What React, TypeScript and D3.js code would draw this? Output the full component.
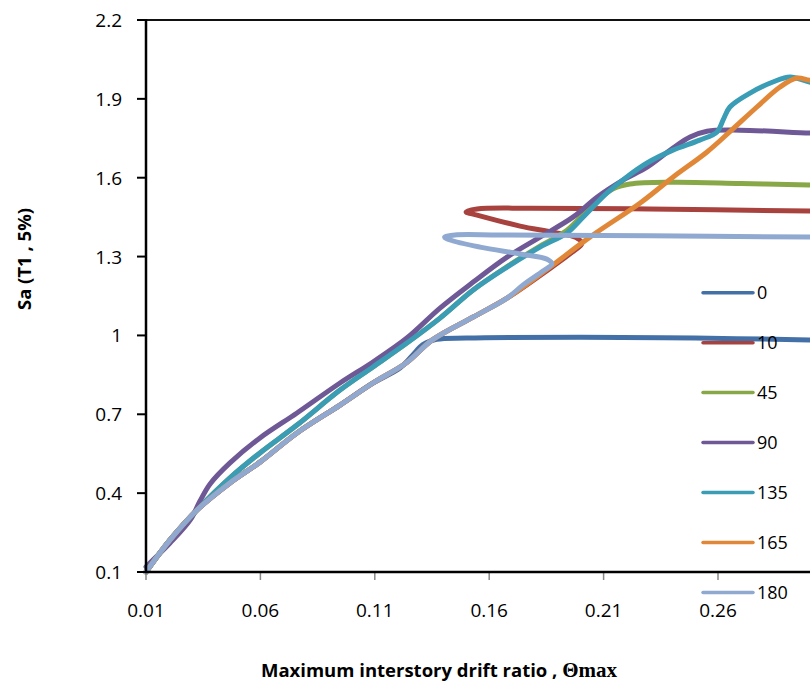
import React from "react";
import * as d3 from "d3";

const W = 810;
const H = 682;

const seriesNames = ["0", "10", "45", "90", "135", "165", "180"];
const seriesColors = ["#4470A8", "#A8423E", "#88A848", "#6E5895", "#3A9CB5", "#E08838", "#90A9D0"];

const xTicks = [0.01, 0.06, 0.11, 0.16, 0.21, 0.26];
const xTickLabels = ["0.01", "0.06", "0.11", "0.16", "0.21", "0.26"];
const yTicks = [0.1, 0.4, 0.7, 1.0, 1.3, 1.6, 1.9, 2.2];
const yTickLabels = ["0.1", "0.4", "0.7", "1", "1.3", "1.6", "1.9", "2.2"];

// Series 0
const drift0 = [0.01, 0.0205, 0.0323, 0.0467, 0.0598, 0.076, 0.0948, 0.1092, 0.121, 0.1265, 0.131, 0.137, 0.15, 0.2, 0.25, 0.3, 0.31];
const sa0 = [0.1, 0.222, 0.336, 0.439, 0.518, 0.629, 0.735, 0.819, 0.876, 0.925, 0.965, 0.985, 0.99, 0.993, 0.99, 0.983, 0.981];

// Series 10
const drift10 = [0.01, 0.0205, 0.0323, 0.0467, 0.0598, 0.076, 0.0948, 0.1092, 0.124, 0.135, 0.153, 0.1678, 0.1866, 0.196, 0.2005, 0.198, 0.188, 0.1735, 0.1547, 0.1499, 0.1547, 0.178, 0.23, 0.3, 0.31];
const sa10 = [0.1, 0.222, 0.336, 0.439, 0.518, 0.629, 0.735, 0.819, 0.897, 0.982, 1.07, 1.142, 1.255, 1.315, 1.35, 1.372, 1.392, 1.416, 1.458, 1.47, 1.481, 1.484, 1.481, 1.473, 1.472];

// Series 45
const drift45 = [0.01, 0.0205, 0.0323, 0.0467, 0.0598, 0.076, 0.0948, 0.1092, 0.124, 0.1385, 0.153, 0.1678, 0.1822, 0.194, 0.2054, 0.214, 0.2215, 0.2403, 0.27, 0.3, 0.31];
const sa45 = [0.1, 0.222, 0.336, 0.458, 0.553, 0.659, 0.792, 0.88, 0.971, 1.066, 1.173, 1.262, 1.34, 1.4, 1.5, 1.557, 1.576, 1.583, 1.578, 1.572, 1.571];

// Series 90
const drift90 = [0.01, 0.0205, 0.0295, 0.0336, 0.038, 0.0467, 0.0598, 0.076, 0.0948, 0.1092, 0.124, 0.1385, 0.153, 0.1678, 0.1822, 0.1966, 0.2071, 0.2185, 0.229, 0.2403, 0.2478, 0.2552, 0.2696, 0.3, 0.31];
const sa90 = [0.12, 0.21, 0.3, 0.37, 0.435, 0.515, 0.61, 0.705, 0.819, 0.899, 0.99, 1.104, 1.203, 1.298, 1.374, 1.45, 1.526, 1.591, 1.64, 1.713, 1.755, 1.777, 1.781, 1.77, 1.768];

// Series 135
const drift135 = [0.01, 0.0205, 0.0323, 0.0467, 0.0598, 0.076, 0.0948, 0.1092, 0.124, 0.1385, 0.153, 0.1678, 0.1822, 0.194, 0.201, 0.2115, 0.22, 0.229, 0.2403, 0.252, 0.2596, 0.2622, 0.2652, 0.274, 0.284, 0.2915, 0.3, 0.31];
const sa135 = [0.1, 0.222, 0.336, 0.458, 0.553, 0.659, 0.792, 0.88, 0.971, 1.066, 1.173, 1.26, 1.336, 1.39, 1.45, 1.542, 1.602, 1.656, 1.705, 1.743, 1.774, 1.819, 1.869, 1.922, 1.964, 1.983, 1.964, 1.95];

// Series 165
const drift165 = [0.01, 0.0205, 0.0323, 0.0467, 0.0598, 0.076, 0.0948, 0.1092, 0.124, 0.135, 0.153, 0.1678, 0.1866, 0.204, 0.226, 0.2403, 0.2552, 0.2652, 0.277, 0.2871, 0.2945, 0.3, 0.31];
const sa165 = [0.1, 0.222, 0.336, 0.439, 0.518, 0.629, 0.735, 0.819, 0.897, 0.982, 1.07, 1.142, 1.26, 1.374, 1.504, 1.602, 1.698, 1.775, 1.869, 1.945, 1.979, 1.971, 1.96];

// Series 180
const drift180 = [0.01, 0.0205, 0.0323, 0.0467, 0.0598, 0.076, 0.0948, 0.1092, 0.124, 0.135, 0.153, 0.1678, 0.1748, 0.1835, 0.1874, 0.1853, 0.1735, 0.156, 0.1429, 0.1405, 0.145, 0.1647, 0.23, 0.3, 0.31];
const sa180 = [0.1, 0.222, 0.336, 0.439, 0.518, 0.629, 0.735, 0.819, 0.897, 0.982, 1.07, 1.142, 1.192, 1.245, 1.272, 1.29, 1.31, 1.336, 1.363, 1.374, 1.382, 1.382, 1.379, 1.374, 1.373];

const driftSeries = [drift0, drift10, drift45, drift90, drift135, drift165, drift180];
const saSeries = [sa0, sa10, sa45, sa90, sa135, sa165, sa180];

const PLOT_LEFT = 146;
const PLOT_TOP = 20;
const PLOT_BOTTOM = 572;
const PLOT_RIGHT = 832.4;

const FONT = "'Open Sans', 'Liberation Sans', sans-serif";

export default function App() {
  const x = d3.scaleLinear().domain([0.01, 0.31]).range([PLOT_LEFT, PLOT_RIGHT]);
  const y = d3.scaleLinear().domain([0.1, 2.2]).range([PLOT_BOTTOM, PLOT_TOP]);

  const line = d3
    .line<[number, number]>()
    .x((d) => x(d[0]))
    .y((d) => y(d[1]))
    .curve(d3.curveCatmullRom.alpha(0.5));

  const paths = driftSeries.map((xs, i) => {
    const pts: [number, number][] = xs.map((v, j) => [v, saSeries[i][j]]);
    return line(pts) || "";
  });

  return (
    <svg
      width={W}
      height={H}
      viewBox={`0 0 ${W} ${H}`}
      style={{ position: "absolute", left: 0, top: 0, background: "#fff" }}
    >
      <rect x={0} y={0} width={W} height={H} fill="#fff" />

      {/* series */}
      <g fill="none" strokeLinecap="round" strokeLinejoin="round">
        {paths.map((p, i) => (
          <path key={seriesNames[i]} d={p} stroke={seriesColors[i]} strokeWidth={5} />
        ))}
      </g>

      {/* x ticks */}
      {xTicks.map((t) => (
        <line key={"xt" + t} x1={x(t)} x2={x(t)} y1={PLOT_BOTTOM} y2={PLOT_BOTTOM + 8} stroke="#888" strokeWidth={1.5} />
      ))}
      {/* y ticks */}
      {yTicks.map((t) => (
        <line key={"yt" + t} x1={PLOT_LEFT - 9} x2={PLOT_LEFT} y1={y(t)} y2={y(t)} stroke="#000" strokeWidth={2} />
      ))}

      {/* axes / frame */}
      <line x1={PLOT_LEFT} x2={PLOT_RIGHT} y1={PLOT_TOP} y2={PLOT_TOP} stroke="#111" strokeWidth={2} />
      <line x1={PLOT_LEFT} x2={PLOT_LEFT} y1={PLOT_TOP - 1} y2={PLOT_BOTTOM + 1} stroke="#000" strokeWidth={2.5} />
      <line x1={PLOT_LEFT - 1} x2={PLOT_RIGHT} y1={PLOT_BOTTOM} y2={PLOT_BOTTOM} stroke="#000" strokeWidth={2.5} />

      {/* tick labels */}
      {xTicks.map((t, i) => (
        <text key={"xl" + t} x={x(t)} y={617} textAnchor="middle" fontFamily={FONT} fontSize={19} fill="#000">
          {xTickLabels[i]}
        </text>
      ))}
      {yTicks.map((t, i) => (
        <text key={"yl" + t} x={122} y={y(t) + 7} textAnchor="end" fontFamily={FONT} fontSize={19} fill="#000">
          {yTickLabels[i]}
        </text>
      ))}

      {/* legend */}
      {seriesNames.map((n, i) => {
        const ly = 292.7 + 49.95 * i;
        return (
          <g key={"lg" + n}>
            <line x1={703} x2={753} y1={ly} y2={ly} stroke={seriesColors[i]} strokeWidth={3.5} strokeLinecap="round" />
            <text x={757} y={ly + 6.5} fontFamily={FONT} fontSize={18} fill="#000">
              {n}
            </text>
          </g>
        );
      })}

      {/* axis titles */}
      <text
        transform="translate(31,259) rotate(-90)"
        textAnchor="middle"
        fontFamily={FONT}
        fontSize={18.5}
        fontWeight="bold"
        fill="#000"
      >
        Sa (T1 , 5%)
      </text>
      <text x={439} y={677} textAnchor="middle" fontFamily={FONT} fontSize={18.5} fontWeight="bold" fill="#000">
        Maximum interstory drift ratio ,{" "}
        <tspan fontFamily="'Liberation Serif', 'DejaVu Serif', serif" fontSize={21}>
          Θmax
        </tspan>
      </text>
    </svg>
  );
}
